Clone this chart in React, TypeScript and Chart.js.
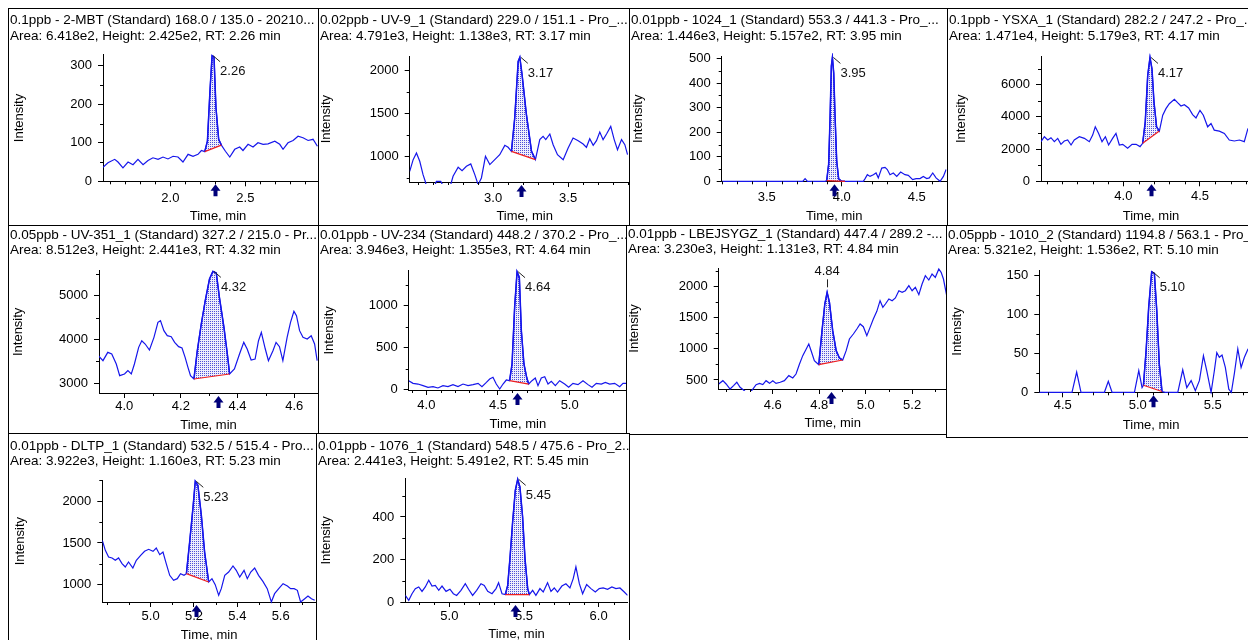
import React, { useEffect, useRef } from 'react';
import { Chart, registerables } from 'chart.js';

Chart.register(...registerables);

const FONT = '"Liberation Sans", Arial, Helvetica, sans-serif';
Chart.defaults.font.family = FONT;
Chart.defaults.color = '#000';

// ---------- data (time in min, intensity in cps) ----------
const mbtTime = [1.551,1.584,1.629,1.651,1.684,1.718,1.751,1.784,1.818,1.851,1.884,1.918,1.951,1.984,2.018,2.051,2.084,2.118,2.151,2.184,2.207,2.229,2.247,2.264,2.278,2.291,2.304,2.322,2.340,2.367,2.396,2.429,2.462,2.484,2.518,2.551,2.584,2.618,2.651,2.696,2.729,2.751,2.784,2.818,2.851,2.884,2.918,2.951,2.980];
const mbtSignal = [36,48,57,50,35,50,43,57,43,54,61,57,63,58,65,63,50,70,65,70,80,77,104,235,326,322,191,109,94,78,63,83,89,80,96,89,100,96,97,104,96,83,100,106,117,113,106,109,91];

const uv9Time = [2.444,2.467,2.489,2.511,2.533,2.549,2.567,2.600,2.622,2.651,2.673,2.711,2.733,2.767,2.793,2.822,2.851,2.878,2.900,2.922,2.949,2.978,3.011,3.044,3.078,3.100,3.122,3.144,3.167,3.178,3.193,3.222,3.256,3.282,3.311,3.333,3.351,3.378,3.400,3.429,3.467,3.500,3.533,3.567,3.600,3.622,3.644,3.667,3.689,3.711,3.733,3.756,3.784,3.807,3.829,3.856,3.878,3.896];
const uv9Signal = [825,961,1039,942,786,700,552,611,708,708,630,630,767,872,833,883,911,786,669,747,1000,903,961,1019,1128,1105,1058,1447,2109,2156,1953,1486,1058,961,1195,1233,1195,1261,1136,1019,961,1097,1214,1183,1144,1105,1206,1128,1183,1284,1195,1261,1350,1195,1078,1195,1136,1019];

const c1024Time = [3.200,3.740,3.756,3.772,3.889,3.900,3.913,3.922,3.931,3.938,3.947,3.956,3.967,3.980,4.000,4.022,4.144,4.156,4.171,4.189,4.211,4.229,4.244,4.267,4.289,4.304,4.322,4.344,4.367,4.393,4.422,4.444,4.473,4.496,4.522,4.544,4.567,4.584,4.607,4.629,4.656,4.678,4.696];
const c1024Signal = [0,0,11,0,0,3,70,250,470,505,440,260,80,10,0,0,0,11,27,20,27,34,14,54,57,48,27,34,20,38,27,24,7,11,11,20,11,14,34,14,0,20,48];

const ysxaTime = [3.463,3.485,3.507,3.528,3.550,3.572,3.593,3.615,3.637,3.659,3.680,3.713,3.746,3.778,3.800,3.817,3.839,3.861,3.883,3.904,3.930,3.952,3.974,3.996,4.028,4.057,4.083,4.109,4.126,4.143,4.159,4.174,4.187,4.200,4.217,4.235,4.257,4.278,4.300,4.333,4.354,4.376,4.398,4.426,4.452,4.474,4.500,4.522,4.550,4.572,4.593,4.626,4.659,4.691,4.724,4.757,4.789,4.813];
const ysxaSignal = [2462,2769,2564,2708,2462,2667,2297,2503,2564,2256,2564,2769,2667,2462,2872,3385,2974,2462,2769,2256,2667,2974,2256,2297,2051,2297,2297,2154,2359,3692,6564,7692,6974,4923,3385,3118,4103,4513,4821,5087,4882,4677,4759,4554,4144,3938,4410,4103,3385,3590,3179,3118,2974,2564,2503,2564,2462,3282];

const uv351Time = [3.909,3.925,3.942,3.956,3.972,3.984,4.001,4.013,4.025,4.036,4.051,4.062,4.074,4.089,4.105,4.119,4.128,4.140,4.152,4.166,4.178,4.192,4.204,4.215,4.225,4.234,4.246,4.258,4.272,4.286,4.301,4.313,4.325,4.336,4.352,4.364,4.372,4.389,4.407,4.422,4.434,4.448,4.462,4.474,4.484,4.498,4.509,4.525,4.536,4.548,4.560,4.575,4.587,4.599,4.608,4.619,4.631,4.646,4.660,4.672,4.681];
const uv351Signal = [3631,3517,3707,3669,3441,3175,3213,3289,3213,3441,3821,3973,3897,3760,4049,4392,4430,4202,4087,4065,3935,3837,3806,3593,3365,3175,3099,3745,4354,4886,5380,5555,5520,4962,4278,3669,3213,3327,3669,3935,3783,3532,3555,3973,4163,3783,3517,3745,3935,3837,3517,4049,4392,4643,4544,4202,4049,4011,4087,3897,3517];

const uv234Time = [3.877,3.907,3.942,3.977,4.012,4.047,4.081,4.116,4.151,4.186,4.221,4.256,4.291,4.326,4.361,4.388,4.419,4.442,4.465,4.488,4.512,4.535,4.558,4.581,4.598,4.616,4.633,4.649,4.663,4.681,4.700,4.714,4.737,4.760,4.779,4.802,4.826,4.849,4.872,4.900,4.930,4.965,4.993,5.023,5.058,5.093,5.128,5.156,5.186,5.221,5.249,5.279,5.314,5.349,5.372,5.400];
const uv234Signal = [107,75,67,48,28,36,20,48,36,60,36,67,48,60,75,36,87,127,147,67,8,67,115,107,306,980,1405,1337,702,306,147,67,107,139,48,139,155,67,99,48,107,67,28,75,60,107,60,28,75,67,87,67,75,36,75,75];

const lbejTime = [4.367,4.385,4.399,4.416,4.431,4.445,4.459,4.474,4.492,4.511,4.528,4.543,4.557,4.571,4.586,4.600,4.614,4.632,4.650,4.669,4.686,4.700,4.715,4.729,4.744,4.755,4.765,4.779,4.798,4.812,4.824,4.834,4.844,4.858,4.873,4.887,4.901,4.916,4.930,4.947,4.962,4.976,4.990,5.005,5.019,5.033,5.048,5.062,5.074,5.085,5.100,5.114,5.128,5.143,5.157,5.171,5.186,5.200,5.214,5.229,5.243,5.257,5.272,5.286,5.300,5.315,5.325,5.335,5.349];
const lbejSignal = [436,489,436,355,409,463,382,339,275,339,425,446,425,489,446,489,446,463,489,570,532,596,757,891,998,1078,971,811,746,1293,1721,1909,1748,1293,971,854,821,971,1159,1239,1320,1400,1357,1212,1346,1480,1603,1775,1668,1721,1802,1775,1818,1935,1909,1935,2016,1935,1989,1871,2043,2176,2107,2203,2150,2284,2230,2123,1855];

const c1010Time = [4.344,4.562,4.593,4.622,4.778,4.804,4.829,4.978,5.007,5.029,5.038,5.056,5.073,5.093,5.111,5.127,5.144,5.162,5.184,5.267,5.300,5.327,5.356,5.384,5.411,5.438,5.460,5.489,5.511,5.527,5.544,5.562,5.584,5.607,5.624,5.644,5.667,5.689,5.711,5.736];
const c1010Signal = [0,0,26,0,0,14,0,0,28,6,9,54,109,155,153,105,36,1,0,0,29,6,15,2,15,47,28,0,28,51,45,48,32,4,0,24,56,32,45,56];

const dltpTime = [4.777,4.791,4.806,4.822,4.837,4.852,4.868,4.883,4.898,4.918,4.934,4.954,4.972,4.991,5.011,5.026,5.042,5.057,5.072,5.088,5.106,5.123,5.138,5.154,5.165,5.180,5.195,5.206,5.218,5.234,5.249,5.268,5.283,5.298,5.314,5.326,5.342,5.360,5.380,5.395,5.411,5.431,5.446,5.462,5.480,5.498,5.518,5.538,5.557,5.572,5.591,5.611,5.631,5.646,5.662,5.677,5.692,5.711,5.726,5.742,5.757];
const dltpSignal = [1532,1412,1332,1320,1292,1320,1252,1212,1272,1200,1292,1352,1400,1424,1400,1440,1360,1392,1252,1112,1052,1072,1132,1112,1132,1512,1912,2240,2192,1832,1392,1032,1072,1000,872,952,1112,1152,1224,1172,1092,1172,1072,1152,1200,1112,1040,952,792,892,952,1012,984,952,952,932,792,832,864,832,812];

const c1076Time = [4.705,4.728,4.750,4.772,4.795,4.817,4.839,4.862,4.884,4.906,4.929,4.951,4.978,5.004,5.027,5.049,5.078,5.107,5.129,5.156,5.183,5.212,5.234,5.257,5.286,5.313,5.330,5.353,5.375,5.391,5.406,5.424,5.442,5.458,5.473,5.491,5.507,5.525,5.536,5.558,5.580,5.607,5.629,5.658,5.681,5.703,5.725,5.754,5.781,5.808,5.830,5.848,5.871,5.893,5.920,5.949,5.978,6.004,6.031,6.060,6.089,6.116,6.143,6.172,6.194];
const c1076Signal = [31,8,39,63,71,50,71,102,75,78,55,75,50,60,39,31,55,86,60,31,55,86,78,50,39,63,91,39,35,78,204,376,525,577,541,400,204,63,35,55,31,63,47,91,50,66,47,75,86,66,110,165,86,39,82,63,47,63,66,60,71,63,66,47,31];

const panelTimes = [mbtTime, uv9Time, c1024Time, ysxaTime, uv351Time, uv234Time, lbejTime, c1010Time, dltpTime, c1076Time];
const panelSignals = [mbtSignal, uv9Signal, c1024Signal, ysxaSignal, uv351Signal, uv234Signal, lbejSignal, c1010Signal, dltpSignal, c1076Signal];

// integration window [start, end] of each peak (min)
const peakWindows = [[2.229,2.340],[3.122,3.282],[3.900,4.022],[4.126,4.235],[4.246,4.372],[4.581,4.714],[4.798,4.901],[5.038,5.162],[5.165,5.268],[5.375,5.536]];
const rtMarkers = [2.296,3.184,3.949,4.180,4.331,4.633,4.851,5.100,5.211,5.442];
const rtLabels = ['2.26','3.17','3.95','4.17','4.32','4.64','4.84','5.10','5.23','5.45'];

const xRanges = [[1.551,3.084],[2.444,3.977],[3.2,4.7],[3.463,4.898],[3.911,4.684],[3.877,5.400],[4.367,5.349],[4.344,5.835],[4.777,5.763],[4.705,6.195]];
const yRanges = [[0,328.6],[700,2168],[0,509.6],[0,7764],[2779,5571],[-4,1417],[355,2300],[0,156.4],[792,2252],[0,580]];
const xTicks = [[2.0,2.5],[3.0,3.5],[3.5,4.0,4.5],[4.0,4.5],[4.0,4.2,4.4,4.6],[4.0,4.5,5.0],[4.6,4.8,5.0,5.2],[4.5,5.0,5.5],[5.0,5.2,5.4,5.6],[5.0,5.5,6.0]];
const yTicks = [[0,100,200,300],[1000,1500,2000],[0,100,200,300,400,500],[0,2000,4000,6000],[3000,4000,5000],[0,500,1000],[500,1000,1500,2000],[0,50,100,150],[1000,1500,2000],[0,200,400]];
const xMinorSteps = [0.1,0.1,0.1,0.1,0.1,0.1,0.1,0.1,0.1,0.1];
const yMinorSteps = [50,250,50,1000,500,250,250,25,250,100];

const titleLines = [
  ['0.1ppb - 2-MBT (Standard) 168.0 / 135.0 - 20210...', 'Area: 6.418e2, Height: 2.425e2, RT: 2.26 min'],
  ['0.02ppb - UV-9_1 (Standard) 229.0 / 151.1 - Pro_...', 'Area: 4.791e3, Height: 1.138e3, RT: 3.17 min'],
  ['0.01ppb - 1024_1 (Standard) 553.3 / 441.3 - Pro_...', 'Area: 1.446e3, Height: 5.157e2, RT: 3.95 min'],
  ['0.1ppb - YSXA_1 (Standard) 282.2 / 247.2 - Pro_...', 'Area: 1.471e4, Height: 5.179e3, RT: 4.17 min'],
  ['0.05ppb - UV-351_1 (Standard) 327.2 / 215.0 - Pr...', 'Area: 8.512e3, Height: 2.441e3, RT: 4.32 min'],
  ['0.01ppb - UV-234 (Standard) 448.2 / 370.2 - Pro_...', 'Area: 3.946e3, Height: 1.355e3, RT: 4.64 min'],
  ['0.01ppb - LBEJSYGZ_1 (Standard) 447.4 / 289.2 -...', 'Area: 3.230e3, Height: 1.131e3, RT: 4.84 min'],
  ['0.05ppb - 1010_2 (Standard) 1194.8 / 563.1 - Pro_...', 'Area: 5.321e2, Height: 1.536e2, RT: 5.10 min'],
  ['0.01ppb - DLTP_1 (Standard) 532.5 / 515.4 - Pro...', 'Area: 3.922e3, Height: 1.160e3, RT: 5.23 min'],
  ['0.01ppb - 1076_1 (Standard) 548.5 / 475.6 - Pro_2...', 'Area: 2.441e3, Height: 5.491e2, RT: 5.45 min'],
];

// ---------- layout (page pixels) ----------
type Geo = { l: number; t: number; w: number; h: number; pl: number; pt: number; pr: number; pb: number; yTitleX: number; xTitleY: number; base: number; xPad: number; mode: string };
const LAYOUT: Geo[] = [
  { l: 8, t: 8, w: 311, h: 218, pl: 103, pt: 54.7, pr: 333, pb: 181.3, yTitleX: 19.7, xTitleY: 216.3, base: 24.7, xPad: 3.9, mode: 'side' },
  { l: 318, t: 8, w: 312, h: 218, pl: 409.7, pt: 56.3, pr: 639.7, pb: 182, yTitleX: 326.3, xTitleY: 216.3, base: 24.7, xPad: 3.2, mode: 'side' },
  { l: 629, t: 8, w: 319, h: 218, pl: 721.7, pt: 56.3, pr: 946.7, pb: 181.3, yTitleX: 638.3, xTitleY: 216.3, base: 24.7, xPad: 3.2, mode: 'side' },
  { l: 947, t: 8, w: 302, h: 218, pl: 1041, pt: 56.3, pr: 1261, pb: 181.3, yTitleX: 961, xTitleY: 216.3, base: 24.7, xPad: 2.2, mode: 'side' },
  { l: 8, t: 225, w: 311, h: 209, pl: 99, pt: 270.7, pr: 318, pb: 393, yTitleX: 18, xTitleY: 425.5, base: 239, xPad: 0.5, mode: 'side' },
  { l: 318, t: 225, w: 310, h: 209, pl: 408.7, pt: 270.7, pr: 627, pb: 390, yTitleX: 329.7, xTitleY: 424, base: 239, xPad: 2.9, mode: 'side' },
  { l: 626, t: 225, w: 321, h: 210, pl: 718.7, pt: 268, pr: 946.7, pb: 389, yTitleX: 634.3, xTitleY: 423.3, base: 238, xPad: 3.9, mode: 'above' },
  { l: 946, t: 225, w: 303, h: 213, pl: 1039.3, pt: 270.7, pr: 1263, pb: 392.3, yTitleX: 957.7, xTitleY: 425.7, base: 239, xPad: 0.6, mode: 'side' },
  { l: 8, t: 433, w: 311, h: 208, pl: 102.3, pt: 480.3, pr: 316, pb: 602, yTitleX: 20.7, xTitleY: 635.3, base: 450.3, xPad: 1.9, mode: 'side' },
  { l: 316, t: 433, w: 314, h: 208, pl: 405.3, pt: 478.7, pr: 627.7, pb: 602, yTitleX: 326, xTitleY: 634.7, base: 450.3, xPad: 1.2, mode: 'side' },
];

const BLUE = 'rgb(22,22,235)';
const RED = 'rgb(240,30,30)';

function makePattern(): CanvasPattern | string {
  const c = document.createElement('canvas');
  c.width = 2;
  c.height = 2;
  const g = c.getContext('2d');
  if (!g) return 'rgba(40,40,200,0.3)';
  g.fillStyle = 'rgb(238,238,252)';
  g.fillRect(0, 0, 2, 2);
  g.fillStyle = 'rgb(80,80,215)';
  g.fillRect(0, 0, 1, 1);
  return g.createPattern(c, 'repeat') || 'rgba(40,40,200,0.3)';
}

function Panel({ i }: { i: number }) {
  const ref = useRef<HTMLCanvasElement>(null);
  const g = LAYOUT[i];
  const CW = g.w + 30;
  const CH = g.h + 10;

  useEffect(() => {
    const canvas = ref.current;
    if (!canvas) return;
    const times = panelTimes[i];
    const sig = panelSignals[i];
    const line = times.map((t, k) => ({ x: t, y: sig[k] }));
    const [ps, pe] = peakWindows[i];
    const peak = line.filter((p) => p.x >= ps - 1e-6 && p.x <= pe + 1e-6).map((p) => ({ ...p }));
    const base = [{ ...peak[0] }, { ...peak[peak.length - 1] }];
    const apex = peak.reduce((a, b) => (b.y > a.y ? b : a));
    const plotTop = g.pt - g.t;
    const plotRight = g.pr - g.l;
    const plotLeft = g.pl - g.l;
    const plotBottom = g.pb - g.t;
    const clip = { left: 0, right: 0, top: 3, bottom: 2 };
    const tickFont = { family: FONT, size: 13 };

    const extras = {
      id: 'extras',
      afterDatasetsDraw(chart: any) {
        const { ctx, chartArea: ca } = chart;
        const xs = chart.scales.x;
        const ys = chart.scales.y;
        ctx.save();
        ctx.strokeStyle = '#000';
        ctx.lineWidth = 1;
        ctx.beginPath();
        const xm = xMinorSteps[i];
        for (let k = Math.ceil(xs.min / xm - 1e-6); k * xm <= xs.max + 1e-9; k++) {
          const v = k * xm;
          if (xTicks[i].some((m) => Math.abs(m - v) < 1e-6)) continue;
          const px = Math.round(xs.getPixelForValue(v)) + 0.5;
          if (px < ca.left || px > ca.right) continue;
          ctx.moveTo(px, ca.bottom);
          ctx.lineTo(px, ca.bottom + 3);
        }
        const ym = yMinorSteps[i];
        for (let k = Math.ceil(ys.min / ym - 1e-6); k * ym <= ys.max + 1e-9; k++) {
          const v = k * ym;
          if (yTicks[i].some((m) => Math.abs(m - v) < 1e-6)) continue;
          const py = Math.round(ys.getPixelForValue(v)) + 0.5;
          if (py < ca.top || py > ca.bottom) continue;
          ctx.moveTo(ca.left - 3, py);
          ctx.lineTo(ca.left, py);
        }
        ctx.stroke();

        // RT arrow
        const ax = Math.round(xs.getPixelForValue(rtMarkers[i])) + 0.5;
        const by = ca.bottom;
        ctx.fillStyle = '#00007a';
        ctx.beginPath();
        ctx.moveTo(ax, by + 3);
        ctx.lineTo(ax + 5, by + 9.5);
        ctx.lineTo(ax + 2, by + 9.5);
        ctx.lineTo(ax + 2, by + 15);
        ctx.lineTo(ax - 2, by + 15);
        ctx.lineTo(ax - 2, by + 9.5);
        ctx.lineTo(ax - 5, by + 9.5);
        ctx.closePath();
        ctx.fill();

        // apex label
        const apx = xs.getPixelForValue(apex.x);
        const apy = ys.getPixelForValue(apex.y);
        ctx.strokeStyle = '#222';
        ctx.fillStyle = '#111';
        ctx.font = `13px ${FONT}`;
        ctx.beginPath();
        if (g.mode === 'above') {
          ctx.moveTo(Math.round(apx) + 0.5, apy - 5);
          ctx.lineTo(Math.round(apx) + 0.5, apy - 13);
          ctx.stroke();
          ctx.textAlign = 'center';
          ctx.textBaseline = 'middle';
          ctx.fillText(rtLabels[i], apx, apy - 21);
        } else {
          ctx.moveTo(apx + 1, apy);
          ctx.lineTo(apx + 8, apy + 6);
          ctx.stroke();
          ctx.textAlign = 'left';
          ctx.textBaseline = 'middle';
          ctx.fillText(rtLabels[i], apx + 8, apy + 16);
        }
        ctx.restore();
      },
    };

    const chart = new Chart(canvas, {
      type: 'line',
      data: {
        datasets: [
          { data: line, borderColor: BLUE, borderWidth: 1.2, pointRadius: 0, fill: false, tension: 0, order: 2, clip } as any,
          { data: peak, borderColor: BLUE, borderWidth: 1.5, pointRadius: 0, fill: '+1', backgroundColor: makePattern(), tension: 0, order: 3, clip } as any,
          { data: base, borderColor: RED, borderWidth: 1.2, pointRadius: 0, fill: false, tension: 0, order: 1, clip } as any,
        ],
      },
      options: {
        animation: false,
        responsive: false,
        maintainAspectRatio: false,
        devicePixelRatio: 1,
        events: [],
        layout: { padding: { left: 0, top: plotTop, right: CW - plotRight, bottom: 0 } },
        plugins: { legend: { display: false }, tooltip: { enabled: false }, title: { display: false } },
        scales: {
          x: {
            type: 'linear',
            min: xRanges[i][0],
            max: xRanges[i][1],
            afterBuildTicks: (s: any) => {
              s.ticks = xTicks[i].map((v) => ({ value: v }));
            },
            afterFit: (s: any) => {
              s.height = CH - plotBottom;
            },
            ticks: {
              font: tickFont,
              color: '#000',
              padding: g.xPad,
              maxRotation: 0,
              autoSkip: false,
              callback: (v: any) => Number(v).toFixed(1),
            },
            grid: { drawOnChartArea: false, drawTicks: true, tickLength: 5, color: '#000' },
            border: { display: true, color: '#000', width: 1 },
            title: {
              display: true,
              text: 'Time, min',
              color: '#000',
              font: { family: FONT, size: 13 },
              padding: { top: 0, bottom: CH - (g.xTitleY - g.t) - 7.8 },
            },
          },
          y: {
            type: 'linear',
            min: yRanges[i][0],
            max: yRanges[i][1],
            afterBuildTicks: (s: any) => {
              s.ticks = yTicks[i].map((v) => ({ value: v }));
            },
            afterFit: (s: any) => {
              s.width = plotLeft;
            },
            ticks: {
              font: tickFont,
              color: '#000',
              padding: 6,
              autoSkip: false,
              callback: (v: any) => String(Math.round(Number(v))),
            },
            grid: { drawOnChartArea: false, drawTicks: true, tickLength: 5, color: '#000' },
            border: { display: true, color: '#000', width: 1 },
            title: {
              display: true,
              text: 'Intensity',
              color: '#000',
              font: { family: FONT, size: 13 },
              padding: { top: Math.max(0, g.yTitleX - g.l - 7.8), bottom: 0 },
            },
          },
        },
      } as any,
      plugins: [extras],
    });
    return () => chart.destroy();
  }, [i]);

  return (
    <div style={{ position: 'absolute', left: g.l, top: g.t, width: g.w, height: g.h, overflow: 'hidden', background: '#fff' }}>
      <canvas ref={ref} width={CW} height={CH} style={{ position: 'absolute', left: 0, top: 0, width: CW, height: CH }} />
      <div
        style={{
          position: 'absolute',
          left: 2,
          top: g.base - g.t - 12.5,
          width: g.w - 3,
          fontFamily: FONT,
          fontSize: 13.5,
          lineHeight: '15.6px',
          color: '#000',
          whiteSpace: 'nowrap',
          overflow: 'hidden',
        }}
      >
        <div>{titleLines[i][0]}</div>
        <div>{titleLines[i][1]}</div>
      </div>
      <div style={{ position: 'absolute', left: 0, top: 0, right: 0, bottom: 0, border: '1px solid #000', boxSizing: 'border-box', pointerEvents: 'none' }} />
    </div>
  );
}

export default function App() {
  return (
    <div style={{ position: 'absolute', left: 0, top: 0, width: 1248, height: 640, overflow: 'hidden', background: '#fff' }}>
      {LAYOUT.map((_, i) => (
        <Panel key={i} i={i} />
      ))}
    </div>
  );
}
